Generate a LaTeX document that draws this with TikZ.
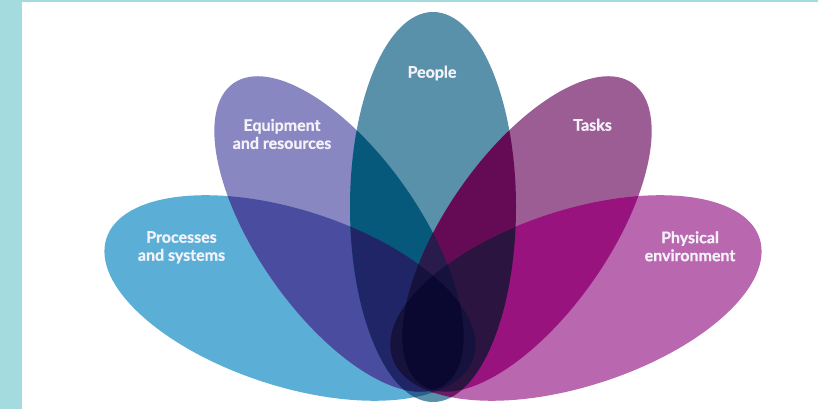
\documentclass[tikz,border=0pt]{standalone}
\usepackage{fontspec}
\setmainfont{Lato}
\newfontfamily\lblfont{Lato}[BoldFeatures={FakeBold=0.9}]
\definecolor{bar}{HTML}{A3DBDF}
\definecolor{cP}{HTML}{5BAFD6}
\definecolor{cE}{HTML}{8987C2}
\definecolor{cH}{HTML}{5A91AA}
\definecolor{cT}{HTML}{9B5D93}
\definecolor{cV}{HTML}{B967AF}
\definecolor{cPE}{HTML}{4A4D9F}
\definecolor{cPH}{HTML}{2B5F8E}
\definecolor{cPT}{HTML}{3A3F80}
\definecolor{cPV}{HTML}{4A3A85}
\definecolor{cEH}{HTML}{06597A}
\definecolor{cET}{HTML}{4A2F78}
\definecolor{cEV}{HTML}{5E3A8A}
\definecolor{cHT}{HTML}{650B55}
\definecolor{cHV}{HTML}{6A1A66}
\definecolor{cTV}{HTML}{99137F}
\definecolor{cPEH}{HTML}{1F2566}
\definecolor{cPET}{HTML}{25205C}
\definecolor{cPEV}{HTML}{2A1E5C}
\definecolor{cPHT}{HTML}{221A50}
\definecolor{cPHV}{HTML}{2A1850}
\definecolor{cPTV}{HTML}{3A1250}
\definecolor{cEHT}{HTML}{2A1B4D}
\definecolor{cEHV}{HTML}{2A1848}
\definecolor{cETV}{HTML}{3A1050}
\definecolor{cHTV}{HTML}{2C1441}
\definecolor{cQ}{HTML}{15123E}
\definecolor{cAll}{HTML}{0A0830}
\definecolor{txt}{HTML}{F4F2F8}
\newcommand\petP[1]{\path[#1,shift={(290,111)},rotate=-18] (0,0) ellipse (193 and 88);}
\newcommand\petE[1]{\path[#1,shift={(339,175)},rotate=-55] (0,0) ellipse (184 and 81);}
\newcommand\petH[1]{\path[#1,shift={(433,202)}] (0,0) ellipse (83 and 195);}
\newcommand\petT[1]{\path[#1,shift={(527,175)},rotate=55] (0,0) ellipse (184 and 81);}
\newcommand\petV[1]{\path[#1,shift={(576,111)},rotate=18] (0,0) ellipse (193 and 88);}
\newcommand\fillB[3]{\begin{scope}#1{clip}#2{fill=#3}\end{scope}}
\newcommand\fillC[4]{\begin{scope}#1{clip}#2{clip}#3{fill=#4}\end{scope}}
\newcommand\fillD[5]{\begin{scope}#1{clip}#2{clip}#3{clip}#4{fill=#5}\end{scope}}
\tikzset{lbl/.style={text=txt, inner sep=0pt, align=center,
  font=\lblfont\bfseries\fontsize{16}{18}\selectfont}}
\begin{document}
\begin{tikzpicture}[x=1pt,y=1pt]
\useasboundingbox (0,0) rectangle (818,409);
\fill[white] (0,0) rectangle (818,409);
\fill[bar] (0,0) rectangle (22,409);
\fill[bar] (0,407) rectangle (818,409);
% single petals
\petP{fill=cP}\petE{fill=cE}\petH{fill=cH}\petT{fill=cT}\petV{fill=cV}
% pairs
\fillB\petP\petE{cPE}\fillB\petP\petH{cPH}\fillB\petP\petT{cPT}\fillB\petP\petV{cPV}
\fillB\petE\petH{cEH}\fillB\petE\petT{cET}\fillB\petE\petV{cEV}
\fillB\petH\petT{cHT}\fillB\petH\petV{cHV}\fillB\petT\petV{cTV}
% triples
\fillC\petP\petE\petH{cPEH}\fillC\petP\petE\petT{cPET}\fillC\petP\petE\petV{cPEV}
\fillC\petP\petH\petT{cPHT}\fillC\petP\petH\petV{cPHV}\fillC\petP\petT\petV{cPTV}
\fillC\petE\petH\petT{cEHT}\fillC\petE\petH\petV{cEHV}\fillC\petE\petT\petV{cETV}
\fillC\petH\petT\petV{cHTV}
% quadruples
\fillD\petP\petE\petH\petT{cQ}\fillD\petP\petE\petH\petV{cQ}
\fillD\petP\petE\petT\petV{cQ}\fillD\petP\petH\petT\petV{cQ}
\fillD\petE\petH\petT\petV{cQ}
% all five
\begin{scope}\petP{clip}\petE{clip}\petH{clip}\petT{clip}\petV{fill=cAll}\end{scope}
% labels
\node[lbl, anchor=base] (people) at (432,331.3) {People};
\node[lbl] (equip) at (282,275) {Equipment\\and resources};
\node[lbl, anchor=base] (tasks) at (592.5,278.3) {Tasks};
\node[lbl] (proc) at (181.5,161.7) {Processes\\and systems};
\node[lbl] (phys) at (690,162.7) {Physical\\environment};
\end{tikzpicture}
\end{document}
